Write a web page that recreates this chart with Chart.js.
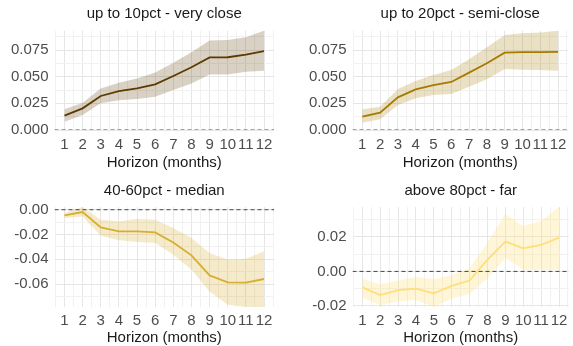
<!DOCTYPE html>
<html>
<head>
<meta charset="utf-8">
<script src="https://cdn.jsdelivr.net/npm/chart.js@4.4.0/dist/chart.umd.min.js"></script>
<style>
  html, body { margin: 0; padding: 0; background: #ffffff; }
  #wrap { position: relative; width: 573px; height: 346px; overflow: hidden; background: #ffffff; }
  canvas { position: absolute; }
</style>
</head>
<body>
<div id="wrap">
  <canvas id="p1" width="286" height="173" style="left:0px;top:0px"></canvas>
  <canvas id="p2" width="287" height="173" style="left:286px;top:0px"></canvas>
  <canvas id="p3" width="286" height="173" style="left:0px;top:173px"></canvas>
  <canvas id="p4" width="287" height="173" style="left:286px;top:173px"></canvas>
</div>
<script>
// Horizon in months
const horizon = [1, 2, 3, 4, 5, 6, 7, 8, 9, 10, 11, 12];

// Point estimates and confidence bounds per distance group
const veryCloseEst = [0.0134, 0.0203, 0.0319, 0.0364, 0.0390, 0.0428, 0.0506, 0.0588, 0.0680, 0.0682, 0.0706, 0.0740];
const veryCloseHi  = [0.0194, 0.0256, 0.0390, 0.0444, 0.0484, 0.0540, 0.0630, 0.0728, 0.0838, 0.0844, 0.0869, 0.0931];
const veryCloseLo  = [0.0078, 0.0141, 0.0250, 0.0280, 0.0290, 0.0312, 0.0375, 0.0437, 0.0520, 0.0520, 0.0547, 0.0556];

const semiCloseEst = [0.0125, 0.0163, 0.0306, 0.0380, 0.0420, 0.0450, 0.0538, 0.0625, 0.0725, 0.0730, 0.0730, 0.0732];
const semiCloseHi  = [0.0194, 0.0219, 0.0384, 0.0460, 0.0516, 0.0563, 0.0663, 0.0775, 0.0890, 0.0906, 0.0913, 0.0931];
const semiCloseLo  = [0.0069, 0.0100, 0.0234, 0.0297, 0.0328, 0.0338, 0.0406, 0.0475, 0.0572, 0.0566, 0.0563, 0.0556];

const medianEst = [-0.0046, -0.0019, -0.0143, -0.0175, -0.0175, -0.0183, -0.0264, -0.0368, -0.0530, -0.0586, -0.0588, -0.0559];
const medianHi  = [-0.0027, 0.0022, -0.0080, -0.0094, -0.0075, -0.0080, -0.0148, -0.0228, -0.0350, -0.0403, -0.0395, -0.0336];
const medianLo  = [-0.0067, -0.0054, -0.0210, -0.0247, -0.0260, -0.0269, -0.0363, -0.0484, -0.0659, -0.0766, -0.0785, -0.0785];

const farEst = [-0.0092, -0.0137, -0.0108, -0.0100, -0.0127, -0.0084, -0.0053, 0.0069, 0.0173, 0.0134, 0.0153, 0.0196];
const farHi  = [-0.0043, -0.0074, -0.0053, -0.0033, -0.0045, -0.0020, 0.0020, 0.0167, 0.0333, 0.0261, 0.0294, 0.0373];
const farLo  = [-0.0151, -0.0196, -0.0172, -0.0166, -0.0206, -0.0157, -0.0131, -0.0039, 0.0079, 0.0010, 0.0010, 0.0010];

// Tick labels
const yTicksClose  = ['0.000', '0.025', '0.050', '0.075'];
const yTicksMedian = ['-0.06', '-0.04', '-0.02', '0.00'];
const yTicksFar    = ['-0.02', '0.00', '0.02'];

const panelTitles = ['up to 10pct - very close', 'up to 20pct - semi-close', '40-60pct - median', 'above 80pct - far'];
const xTitle = 'Horizon (months)';

const FONT = '"Liberation Sans", Arial, Helvetica, sans-serif';
Chart.defaults.font.family = FONT;

// x grid: every half month across the padded range
const xMin = horizon[0] - 0.55;
const xMax = horizon[horizon.length - 1] + 0.55;
const xGrid = [];
horizon.forEach(h => { xGrid.push(h - 0.5); xGrid.push(h); });
xGrid.push(horizon[horizon.length - 1] + 0.5);

function makePanel(id, title, est, lo, hi, color, band, yLabels, box) {
  const yMin = Math.min(0, ...lo);
  const yMax = Math.max(0, ...hi);
  const pts = arr => horizon.map((h, i) => ({ x: h, y: arr[i] }));

  const yMajor = yLabels.map(Number);
  const step = yMajor[1] - yMajor[0];
  const yGrid = [];
  for (let k = -2; k <= yMajor.length * 2 + 2; k++) {
    const v = yMajor[0] + k * step / 2;
    if (v >= yMin - 1e-9 && v <= yMax + 1e-9) yGrid.push(v);
  }
  const majorIndex = v => yMajor.findIndex(m => Math.abs(m - v) < 1e-9);

  new Chart(document.getElementById(id), {
    type: 'line',
    data: {
      datasets: [
        { data: pts(est), borderColor: color, borderWidth: 1.8, pointRadius: 0, fill: false, tension: 0, order: 0 },
        { data: [{ x: xMin, y: 0 }, { x: xMax, y: 0 }], borderColor: '#333333', borderWidth: 0.9,
          borderDash: [4, 3], pointRadius: 0, fill: false, order: 1 },
        { data: pts(hi), borderWidth: 0, borderColor: 'rgba(0,0,0,0)', pointRadius: 0, fill: '+1', backgroundColor: band, order: 2 },
        { data: pts(lo), borderWidth: 0, borderColor: 'rgba(0,0,0,0)', pointRadius: 0, fill: false, order: 3 }
      ]
    },
    options: {
      responsive: false,
      animation: false,
      devicePixelRatio: 1,
      layout: { padding: { left: 0, right: box.padRight, top: 0, bottom: 0 } },
      plugins: {
        legend: { display: false },
        tooltip: { enabled: false },
        title: {
          display: true, text: title, color: '#1a1a1a', fullSize: false,
          font: { family: FONT, size: 15, weight: 'normal', lineHeight: 1.2 },
          padding: { top: box.titleTop, bottom: box.titleBottom }
        }
      },
      scales: {
        x: {
          type: 'linear', min: xMin, max: xMax,
          border: { display: false },
          grid: {
            drawTicks: false,
            color: ctx => Number.isInteger(ctx.tick.value) ? '#e6e6e6' : '#f1f1f1',
            lineWidth: 1
          },
          ticks: {
            autoSkip: false, maxRotation: 0, minRotation: 0, padding: box.xTickPad,
            color: '#4d4d4d', font: { family: FONT, size: 15 },
            callback: v => Number.isInteger(v) ? String(v) : ''
          },
          afterBuildTicks: axis => { axis.ticks = xGrid.map(v => ({ value: v })); },
          afterFit: axis => { axis.height = box.xAxisH; },
          title: {
            display: true, text: xTitle, color: '#1a1a1a',
            font: { family: FONT, size: 15, lineHeight: 1 },
            padding: { top: 0, bottom: box.xTitlePad }
          }
        },
        y: {
          type: 'linear', min: yMin, max: yMax,
          border: { display: false },
          grid: {
            drawTicks: false,
            color: ctx => majorIndex(ctx.tick.value) >= 0 ? '#e6e6e6' : '#f1f1f1',
            lineWidth: 1
          },
          ticks: {
            autoSkip: false, padding: 6, color: '#4d4d4d', font: { family: FONT, size: 15 },
            callback: v => { const i = majorIndex(v); return i >= 0 ? yLabels[i] : ''; }
          },
          afterBuildTicks: axis => { axis.ticks = yGrid.map(v => ({ value: v })); },
          afterFit: axis => { axis.width = box.plotLeft; }
        }
      }
    }
  });
}

const row1 = { titleTop: 5, titleBottom: 7.7, xAxisH: 43, xTickPad: 6, xTitlePad: 2.5 };
const row2 = { titleTop: 8.5, titleBottom: 7.5, xAxisH: 39, xTickPad: 5, xTitlePad: 0.5 };
const col1 = { plotLeft: 54.5, padRight: 12 };
const col2 = { plotLeft: 66.5, padRight: 0.5 };

makePanel('p1', panelTitles[0], veryCloseEst, veryCloseLo, veryCloseHi,
  '#5c3a00', 'rgba(92,58,0,0.23)', yTicksClose, Object.assign({}, row1, col1));
makePanel('p2', panelTitles[1], semiCloseEst, semiCloseLo, semiCloseHi,
  '#a67a00', 'rgba(166,122,0,0.23)', yTicksClose, Object.assign({}, row1, col2));
makePanel('p3', panelTitles[2], medianEst, medianLo, medianHi,
  '#d8ae2f', 'rgba(216,174,47,0.25)', yTicksMedian, Object.assign({}, row2, col1));
makePanel('p4', panelTitles[3], farEst, farLo, farHi,
  '#ffdf7a', 'rgba(255,223,122,0.30)', yTicksFar, Object.assign({}, row2, col2));
</script>
</body>
</html>
